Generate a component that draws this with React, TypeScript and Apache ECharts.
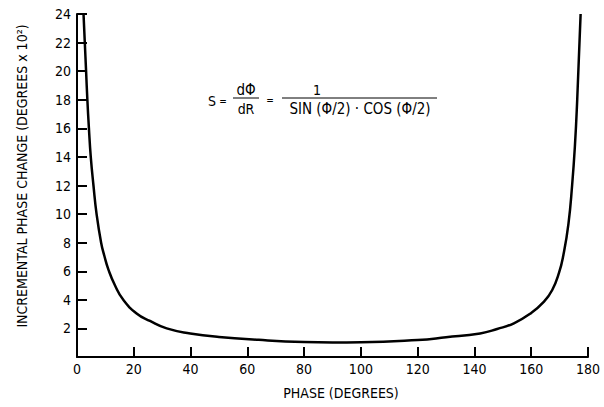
import React, { useEffect, useRef } from "react";
import * as echarts from "echarts";

const xTicks = [0, 20, 40, 60, 80, 100, 120, 140, 160, 180];
const yTicks = [2, 4, 6, 8, 10, 12, 14, 16, 18, 20, 22, 24];

const phase = [2.3, 2.75, 3.2, 3.65, 4.2, 4.85, 5.8, 6.9, 8.5, 9.6, 11.1, 13.4, 16.3, 21, 25.7, 31.6, 39.9, 50, 64, 80, 90, 100, 120, 130, 142, 148, 153.9, 159.8, 164.5, 167.4, 169.8, 171.3, 173.1, 174.4, 175.4, 176.2, 177.4];
const change = [24, 22, 20, 18, 16, 14, 12, 10, 8, 7.1, 6.1, 5, 4, 3.05, 2.52, 2, 1.65, 1.4, 1.2, 1.05, 1.02, 1.03, 1.19, 1.38, 1.65, 1.96, 2.36, 3.05, 3.87, 4.69, 5.9, 7.1, 9.3, 12, 14.8, 18, 24];

const FONT = "'Liberation Sans Narrow', 'DejaVu Sans Condensed', 'Liberation Sans', sans-serif";

export default function App() {
  const ref = useRef<HTMLDivElement>(null);
  useEffect(() => {
    if (!ref.current) return;
    const chart = echarts.init(ref.current, null, { renderer: "svg" });
    const data = phase.map((p, i) => [p, change[i]]);
    chart.setOption({
      animation: false,
      backgroundColor: "#fff",
      grid: { left: 77, right: 16, top: 14, bottom: 50, containLabel: false },
      xAxis: {
        type: "value",
        min: 0,
        max: 180,
        interval: 20,
        axisLine: { show: true, onZero: false, lineStyle: { color: "#000", width: 2 } },
        axisTick: { show: true, inside: true, length: 10, lineStyle: { color: "#000", width: 2 } },
        axisLabel: {
          color: "#000",
          fontSize: 14,
          fontFamily: FONT,
          margin: 5,
          showMaxLabel: true,
          showMinLabel: true,
          formatter: (v: number) => (xTicks.includes(v) ? String(v) : ""),
        },
        splitLine: { show: false },
      },
      yAxis: {
        type: "value",
        min: 0,
        max: 24,
        interval: 2,
        axisLine: { show: true, lineStyle: { color: "#000", width: 2 } },
        axisTick: { show: true, inside: true, length: 10, lineStyle: { color: "#000", width: 2 } },
        axisLabel: {
          color: "#000",
          fontSize: 14,
          fontFamily: FONT,
          margin: 6,
          formatter: (v: number) => (yTicks.includes(v) ? String(v) : ""),
        },
        splitLine: { show: false },
      },
      series: [
        {
          type: "line",
          data,
          smooth: 0.5,
          symbol: "none",
          lineStyle: { color: "#000", width: 2.5 },
        },
      ],
      graphic: [
        { type: "text", x: 22, y: 176, rotation: Math.PI / 2, style: { text: "INCREMENTAL PHASE CHANGE (DEGREES x 10²)", fontSize: 14, fontFamily: FONT, fill: "#000", align: "center", verticalAlign: "middle" } },
        { type: "text", x: 341, y: 393, style: { text: "PHASE (DEGREES)", fontSize: 14, fontFamily: FONT, fill: "#000", align: "center", verticalAlign: "middle" } },
        { type: "text", x: 212, y: 101, style: { text: "S", fontSize: 14, fontFamily: FONT, fill: "#000", align: "center", verticalAlign: "middle" } },
        { type: "text", x: 223, y: 101, style: { text: "=", fontSize: 10, fontFamily: FONT, fill: "#000", align: "center", verticalAlign: "middle" } },
        { type: "text", x: 246, y: 90, style: { text: "dΦ", fontSize: 15, fontFamily: FONT, fill: "#000", align: "center", verticalAlign: "middle" } },
        { type: "line", shape: { x1: 233, y1: 98, x2: 259, y2: 98 }, style: { stroke: "#000", lineWidth: 1 } },
        { type: "text", x: 246, y: 109, style: { text: "dR", fontSize: 14, fontFamily: FONT, fill: "#000", align: "center", verticalAlign: "middle" } },
        { type: "text", x: 270, y: 100, style: { text: "=", fontSize: 10, fontFamily: FONT, fill: "#000", align: "center", verticalAlign: "middle" } },
        { type: "text", x: 317, y: 90, style: { text: "1", fontSize: 14, fontFamily: FONT, fill: "#000", align: "center", verticalAlign: "middle" } },
        { type: "line", shape: { x1: 282, y1: 98, x2: 437, y2: 98 }, style: { stroke: "#000", lineWidth: 1 } },
        { type: "text", x: 360, y: 109, style: { text: "SIN (Φ/2) · COS (Φ/2)", fontSize: 15, fontFamily: FONT, fill: "#000", align: "center", verticalAlign: "middle" } },
      ],
    });
    return () => chart.dispose();
  }, []);
  return <div ref={ref} style={{ width: 604, height: 407, position: "absolute", left: 0, top: 0 }} />;
}
